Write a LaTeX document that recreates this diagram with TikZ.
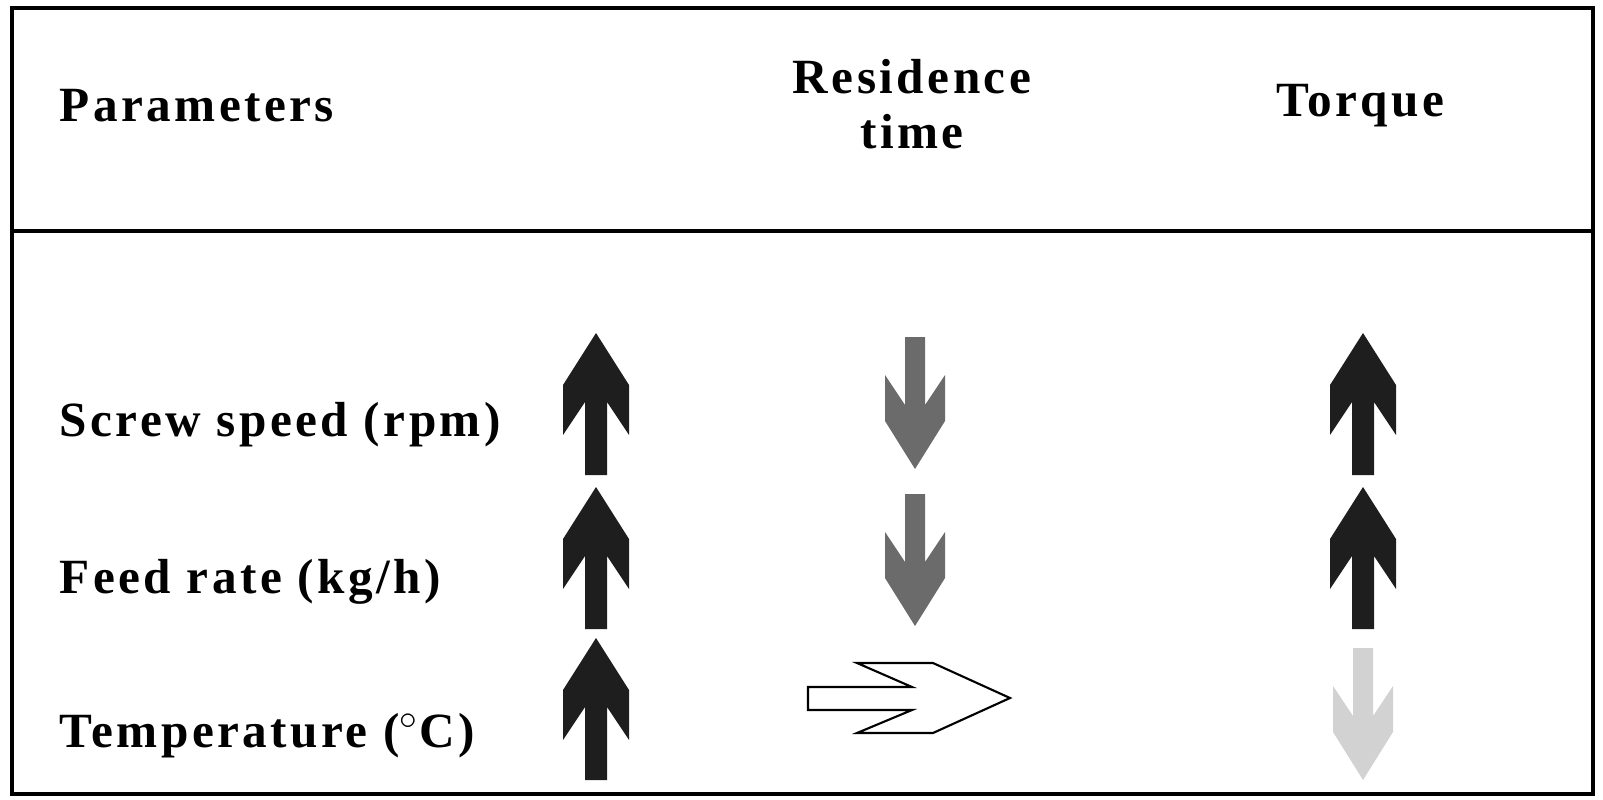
\documentclass[tikz,border=0pt]{standalone}
\usepackage{fontspec}
\setmainfont{Liberation Serif}[LetterSpace=7]
\definecolor{arrblack}{HTML}{1E1E1E}
\definecolor{arrgray}{HTML}{6B6B6B}
\definecolor{arrlight}{HTML}{D2D2D2}
\newcommand\myuparrow[3]{% x, ytop, color
  \fill[#3] (#1,#2) -- ++(-33,52) -- ++(0,50) -- ++(22,-33) -- ++(0,73) -- ++(22,0) -- ++(0,-73) -- ++(22,33) -- ++(0,-50) -- cycle;}
\newcommand\mydownarrow[3]{% x, ybottom(tip), color
  \fill[#3] (#1,#2) -- ++(-30,-48) -- ++(0,-46) -- ++(20,30) -- ++(0,-68) -- ++(20,0) -- ++(0,68) -- ++(20,-30) -- ++(0,46) -- cycle;}
\begin{document}
\begin{tikzpicture}[x=0.01cm,y=-0.01cm,
  txt/.style={font=\fontsize{14}{16.5}\selectfont\bfseries,inner sep=0pt},
  lbl/.style={txt,anchor=west},
  hd/.style={txt,align=center}]
\useasboundingbox (0,0) rectangle (1603,800);
\draw[line width=1.3pt] (12,8) rectangle (1593,794);
\draw[line width=1.1pt] (12,231) -- (1593,231);
\node[lbl] (p) at (59,106) {Parameters};
\node[hd] (r) at (912,104) {Residence\\[-1pt]time};
\node[hd] (t) at (1360,106) {Torque};
\node[lbl] (s) at (59,425) {Screw speed (rpm)};
\node[lbl] (f) at (59,582) {Feed rate (kg/h)};
\node[lbl] (te) at (59,736) {Temperature ($^{\circ}$C)};
\myuparrow{596}{333}{arrblack}
\myuparrow{596}{487}{arrblack}
\myuparrow{596}{638}{arrblack}
\myuparrow{1363}{333}{arrblack}
\myuparrow{1363}{487}{arrblack}
\mydownarrow{1363}{780}{arrlight}
\mydownarrow{915}{469}{arrgray}
\mydownarrow{915}{626}{arrgray}
\draw[line width=0.6pt,fill=white] (808,687) -- (912,687) -- (857,663) -- (933,663) -- (1010,698) -- (933,733) -- (857,733) -- (912,710) -- (808,710) -- cycle;
\end{tikzpicture}
\end{document}
